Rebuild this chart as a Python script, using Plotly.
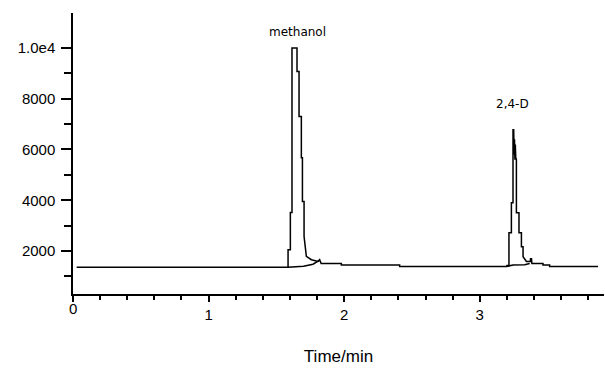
import plotly.graph_objects as go

# Chromatogram signal (time in min, detector response)
sig_t = [0.027, 1.586, 1.586, 1.603, 1.603, 1.615, 1.615, 1.652, 1.652, 1.667, 1.667,
         1.684, 1.684, 1.692, 1.692, 1.704, 1.704, 1.721, 1.758, 1.807, 1.819, 1.830,
         1.979, 1.979, 2.409, 2.409, 3.196, 3.201, 3.215, 3.215, 3.233, 3.233, 3.245,
         3.245, 3.250, 3.253, 3.256, 3.259, 3.262, 3.265, 3.270, 3.270, 3.289, 3.289,
         3.307, 3.307, 3.319, 3.319, 3.344, 3.372, 3.375, 3.378, 3.381, 3.384, 3.466,
         3.466, 3.515, 3.515, 3.872]
sig_v = [1360, 1360, 2050, 2050, 3520, 3520, 10000, 10000, 9076, 9076, 7303,
         7303, 5676, 5676, 3954, 3954, 2575, 1787, 1657, 1590, 1657, 1511,
         1511, 1448, 1448, 1393, 1393, 1430, 1430, 2721, 2721, 3903, 3903,
         6779, 6779, 5800, 6400, 5600, 6200, 5700, 5597, 3509, 3509, 2721,
         2721, 2169, 2169, 1775, 1590, 1590, 1720, 1560, 1720, 1511, 1511,
         1448, 1448, 1393, 1393]

# Integration baselines drawn under the two peaks
base1_t = [1.586, 1.700, 1.770, 1.819]
base1_v = [1360, 1400, 1480, 1640]
base2_t = [3.198, 3.245, 3.331, 3.368]
base2_v = [1393, 1448, 1460, 1511]

peak_names = ["methanol", "2,4-D"]
peak_t = [1.652, 3.244]
peak_v = [10640, 7800]

x_ticks = [0, 1, 2, 3]
x_ticktext = ["", "1", "2", "3"]
y_ticks = [2000, 4000, 6000, 8000, 10000]
y_ticktext = ["2000", "4000", "6000", "8000", "1.0e4"]
y_minor = [1000, 3000, 5000, 7000, 9000]

fig = go.Figure()
line = dict(color="black", width=1.5)
fig.add_trace(go.Scatter(x=sig_t, y=sig_v, mode="lines", line=line, showlegend=False))
fig.add_trace(go.Scatter(x=base1_t, y=base1_v, mode="lines", line=line, showlegend=False))
fig.add_trace(go.Scatter(x=base2_t, y=base2_v, mode="lines", line=line, showlegend=False))

for name, t, v in zip(peak_names, peak_t, peak_v):
    fig.add_annotation(x=t, y=v, text=name, showarrow=False, xanchor="center",
                       yanchor="middle", font=dict(family="DejaVu Sans", size=12, color="black"))

# raised "0" label as in the original
fig.add_annotation(x=0, y=-0.052, xref="x", yref="paper", text="0", showarrow=False,
                   xanchor="center", yanchor="middle",
                   font=dict(family="Liberation Sans", size=15, color="black"))

fig.update_layout(
    width=605, height=369,
    margin=dict(l=73, r=1, t=13, b=75),
    paper_bgcolor="white", plot_bgcolor="white",
    font=dict(family="Liberation Sans", size=15, color="black"),
    xaxis=dict(range=[0, 3.916], tickmode="array", tickvals=x_ticks, ticktext=x_ticktext,
               ticks="outside", ticklen=6, tickwidth=1.5, tickcolor="black",
               showline=True, linecolor="black", linewidth=1.5, showgrid=False,
               zeroline=False, ticklabelstandoff=0,
               minor=dict(dtick=0.2, ticks="outside", ticklen=4, tickwidth=1.5,
                          tickcolor="black", showgrid=False),
               title=dict(text="Time/min", font=dict(family="Liberation Sans", size=17),
                          standoff=28)),
    yaxis=dict(range=[306, 11378], tickmode="array", tickvals=y_ticks, ticktext=y_ticktext,
               ticks="outside", ticklen=10, tickwidth=1.5, tickcolor="black",
               showline=True, linecolor="black", linewidth=1.5, showgrid=False,
               zeroline=False, ticklabelstandoff=3,
               minor=dict(tickmode="array", tickvals=y_minor, ticks="outside", ticklen=7,
                          tickwidth=1.5, tickcolor="black", showgrid=False)),
)

fig.write_html("out.html")
